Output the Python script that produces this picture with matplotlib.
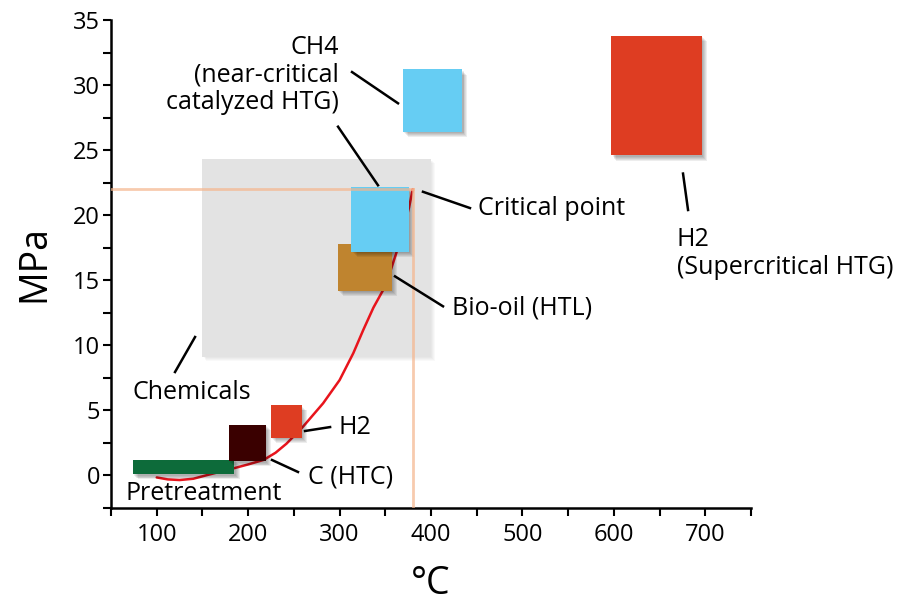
import numpy as np
import matplotlib.pyplot as plt
from matplotlib.patches import Rectangle
import matplotlib.patheffects as pe

plt.rcParams['font.family'] = ['Open Sans', 'DejaVu Sans']

# process windows: (x0, x1, y0, y1) in degC / MPa
box_names = ['pretreat', 'htc', 'h2_low', 'biooil', 'ch4_crit', 'ch4_near', 'h2_super']
box_x0 = [74, 179, 225, 298, 313, 369, 597]
box_x1 = [185, 219, 259, 357, 376, 434, 696]
box_y0 = [0.1, 1.1, 2.9, 14.2, 17.2, 26.4, 24.6]
box_y1 = [1.2, 3.9, 5.4, 17.8, 22.2, 31.2, 33.8]
box_colors = ['#0d6b3a', '#3a0000', '#de3d22', '#bf842f', '#66cdf3', '#66cdf3', '#de3d22']

# chemicals region
chem_x = (150, 400)
chem_y = (9.1, 24.3)

# critical point of water (approx.)
crit_T, crit_P = 380, 22.0

# vapour pressure curve
curve_T = [100, 112, 125, 140, 155, 170, 184, 200, 217, 230, 242, 260, 282, 300, 315,
           326, 337, 348, 356, 363, 370, 376, 380]
curve_P = [-0.15, -0.3, -0.35, -0.25, 0.03, 0.3, 0.55, 0.85, 1.2, 1.75, 2.45, 3.75, 5.55,
           7.33, 9.4, 11.2, 12.9, 14.3, 15.8, 17.3, 19.0, 20.6, 22.0]

fig = plt.figure(figsize=(9.04, 6.04), dpi=100)
ax = fig.add_axes([0.1228, 0.1589, 0.708, 0.808])


def shadow(n=5, step=0.7, a=0.07):
    fx = [pe.SimplePatchShadow(offset=(step * i + 1, -(step * i + 1)), shadow_rgbFace='k', alpha=a)
          for i in range(n)]
    return fx + [pe.Normal()]


ax.add_patch(Rectangle((chem_x[0], chem_y[0]), chem_x[1] - chem_x[0], chem_y[1] - chem_y[0],
                       facecolor='#e3e3e3', edgecolor='none', zorder=1,
                       path_effects=shadow(4, 0.6, 0.025)))

ax.plot(curve_T, curve_P, color='#e8141c', lw=1.8, zorder=2, solid_capstyle='round',
        solid_joinstyle='round')

for x0, x1, y0, y1, c in zip(box_x0, box_x1, box_y0, box_y1, box_colors):
    ax.add_patch(Rectangle((x0, y0), x1 - x0, y1 - y0, facecolor=c, edgecolor='none',
                           zorder=3, path_effects=shadow()))

ax.plot([50, crit_T], [crit_P, crit_P], color='#f5b58c', lw=2, alpha=0.7, zorder=4)
ax.plot([crit_T, crit_T], [-2.5, crit_P], color='#f5b58c', lw=2, alpha=0.7, zorder=4)

# leader lines
leaders = [
    ((313.6, 363.9), (31.0, 28.6)),
    ((298.3, 342.0), (26.8, 22.3)),
    ((391.2, 442.6), (21.8, 20.55)),
    ((360.6, 413.1), (15.3, 13.0)),
    ((675.6, 681.1), (23.2, 20.4)),
    ((262.2, 289.6), (3.42, 3.72)),
    ((226.1, 254.5), (1.19, 0.27)),
    ((141.9, 120.0), (10.64, 7.95)),
]
for lx, ly in leaders:
    ax.plot(lx, ly, color='k', lw=1.8, zorder=5, clip_on=False)

fs = 18
ax.text(299.4, 30.77, 'CH4\n(near-critical\ncatalyzed HTG)', ha='right', va='center',
        multialignment='right', fontsize=fs, linespacing=1.15)
ax.text(451.4, 20.55, 'Critical point', ha='left', va='center', fontsize=fs)
ax.text(423, 12.87, 'Bio-oil (HTL)', ha='left', va='center', fontsize=fs)
ax.text(669, 17.06, 'H2\n(Supercritical HTG)', ha='left', va='center', fontsize=fs, linespacing=1.15)
ax.text(298.3, 3.72, 'H2', ha='left', va='center', fontsize=fs)
ax.text(265.5, -0.12, 'C (HTC)', ha='left', va='center', fontsize=fs)
ax.text(65.3, -1.35, 'Pretreatment', ha='left', va='center', fontsize=fs, zorder=6)
ax.text(73, 6.41, 'Chemicals', ha='left', va='center', fontsize=fs)

ax.set_xlim(50, 750)
ax.set_ylim(-2.5, 35)
ax.set_xticks(np.arange(100, 701, 100))
ax.set_xticks(np.arange(50, 751, 50), minor=True)
ax.set_yticks(np.arange(0, 36, 5))
ax.set_yticks(np.arange(-2.5, 35.1, 2.5), minor=True)
for s in ['top', 'right']:
    ax.spines[s].set_visible(False)
for s in ['left', 'bottom']:
    ax.spines[s].set_linewidth(1.8)
ax.tick_params(which='both', direction='out', length=6, width=1.5, labelsize=17)
ax.tick_params(axis='x', pad=5)
ax.tick_params(axis='y', pad=2)

ax.set_xlabel('°C', fontsize=27, labelpad=13)
ax.set_ylabel('MPa', fontsize=27, labelpad=14)

fig.savefig('out.png', dpi=100)
